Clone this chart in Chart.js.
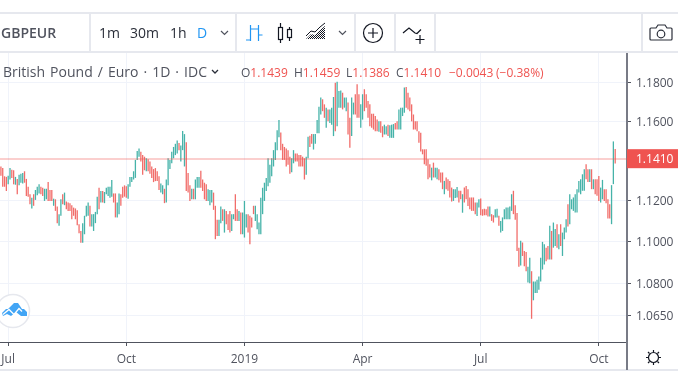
<!DOCTYPE html>
<html><head><meta charset="utf-8">
<script src="https://cdn.jsdelivr.net/npm/chart.js@4"></script>
<style>
html,body{margin:0;padding:0;background:#fff;overflow:hidden}
#wrap{position:relative;width:678px;height:381px;overflow:hidden;font-family:"Open Sans",sans-serif}
canvas{position:absolute;left:0;top:0}
.t{position:absolute;white-space:pre;line-height:16px;height:16px}
.tb{font-size:14px;color:#2a2e39;top:25px}
.lg{font-size:12px;top:65px;color:#ef5350}
.g{color:#50535e}
.line{position:absolute;background:#e6e8ee}
svg{position:absolute;overflow:visible}
</style></head><body>
<div id="wrap">
<canvas id="c" width="678" height="381"></canvas>
<div class="line" style="left:0;top:12px;width:678px;height:2px"></div>
<div class="line" style="left:0;top:51px;width:678px;height:2px"></div>
<div class="line" style="left:89px;top:13px;width:2px;height:39px"></div>
<div class="line" style="left:235px;top:13px;width:2px;height:39px"></div>
<div class="line" style="left:354px;top:13px;width:2px;height:39px"></div>
<div class="line" style="left:394px;top:13px;width:2px;height:39px"></div>
<div class="line" style="left:434px;top:13px;width:2px;height:39px"></div>
<div class="line" style="left:641px;top:13px;width:2px;height:39px"></div>
<div class="line" style="left:0;top:369px;width:678px;height:2px"></div>
<div style="position:absolute;left:626px;top:342px;width:2px;height:28px;background:#787b86"></div>

<div class="t tb" style="left:1px;font-weight:600;color:#50535e">GBPEUR</div>
<div class="t tb" style="left:99px">1m</div>
<div class="t tb" style="left:130px">30m</div>
<div class="t tb" style="left:170px">1h</div>
<div class="t tb" style="left:197px;color:#2196f3">D</div>

<div class="t" style="left:3px;top:64px;font-size:14px;color:#50535e;word-spacing:1.4px">British Pound / Euro · 1D · IDC</div>
<div class="t lg" style="left:241px"><span class="g">O</span>1.1439</div>
<div class="t lg" style="left:294px"><span class="g">H</span>1.1459</div>
<div class="t lg" style="left:346px"><span class="g">L</span>1.1386</div>
<div class="t lg" style="left:396px"><span class="g">C</span>1.1410</div>
<div class="t lg" style="left:449px">−0.0043</div>
<div class="t lg" style="left:496px">(−0.38%)</div>

<svg width="678" height="381" style="left:0;top:0" fill="none">
 <defs><pattern id="h" width="2" height="2" patternUnits="userSpaceOnUse"><rect width="1" height="1" fill="#131722"/><rect x="1" y="1" width="1" height="1" fill="#131722"/></pattern></defs>
 <path d="M221 31l3.5 3.5 3.5-3.5" stroke="#50535e" stroke-width="1.2"/>
 <path d="M339 31l3.5 3.5 3.5-3.5" stroke="#50535e" stroke-width="1.2"/>
 <path d="M212 70l3 3 3-3" stroke="#2a2e39" stroke-width="1.3"/>
 <path d="M250.5 25v16M246 40h4.5M250.5 29h4M258.5 25v16M254 29h4.5M258.5 35h4" stroke="#2196f3" stroke-width="1.2"/>
 <path d="M280.5 23v4M280.5 39v4M289.5 27v2M289.5 37v4" stroke="#131722" stroke-width="1.2"/>
 <rect x="278.5" y="27.5" width="4" height="12" stroke="#131722" stroke-width="1.2"/>
 <rect x="287.5" y="29.5" width="4" height="8" stroke="#131722" stroke-width="1.2"/>
 <path d="M306 39l5-5 4 1 5-5 5-4v13z" fill="url(#h)"/>
 <path d="M306 36l5-5 4 1 5-5 5-4" stroke="#131722" stroke-width="1"/>
 <circle cx="373" cy="33" r="9.5" stroke="#131722" stroke-width="1.2"/>
 <path d="M373 28v10M368 33h10" stroke="#131722" stroke-width="1.2"/>
 <path d="M403 33l6-5 6 5 2 .5 4-4" stroke="#131722" stroke-width="1.2"/>
 <path d="M420 35v9M415.5 39.500h9" stroke="#131722" stroke-width="1.2"/>
 <path d="M651 28h5l2-3h7l2 3h4a1 1 0 0 1 1 1v10a1 1 0 0 1-1 1h-20a1 1 0 0 1-1-1v-10a1 1 0 0 1 1-1z" stroke="#2a2e39" stroke-width="1.2"/>
 <circle cx="661" cy="34" r="3.8" stroke="#2a2e39" stroke-width="1.2"/>
 <circle cx="653.5" cy="357.500" r="5" stroke="#131722" stroke-width="1.2"/>
 <path d="M653.500 350v2M653.500 363v2M646 357.500h2M659 357.500h2M648 352l1.500 1.500M659 363l-1.500-1.500M648 363l1.500-1.500M659 352l-1.500 1.500" stroke="#131722" stroke-width="1.2"/>
 <circle cx="13" cy="311" r="16.500" fill="#fff" stroke="#e6e8ee" stroke-width="1.500"/>
 <path d="M2 313l4-4 2 0 6-6 4 0 4 6 2 0 3 3 0 4-6 0-5-4-5 4-4-2-4 2-1-3z" fill="#42a5f5"/>
 <path d="M3 314.500l6-5 5 5 5-6 3 3" stroke="#fff" stroke-width="1.300"/>
</svg>
</div>
<script>
const highs = [
1.1371,1.1363,1.1322,1.1319,1.1325,1.1363,1.1355,1.1352,1.1319,1.1309,1.1330,1.1335,1.1339,1.1347,1.1309,1.1270,1.1233,1.1216,1.1233,1.1254,
1.1270,1.1282,1.1270,1.1265,1.1260,1.1260,1.1293,1.1254,1.1254,1.1211,1.1208,1.1172,1.1135,1.1208,1.1233,1.1241,1.1197,1.1192,1.1189,1.1179,
1.1167,1.1163,1.1154,1.1086,1.1053,1.1091,1.1127,1.1176,1.1192,1.1176,1.1135,1.1135,1.1146,1.1221,1.1265,1.1249,1.1249,1.1244,1.1265,1.1270,
1.1270,1.1303,1.1237,1.1237,1.1192,1.1237,1.1233,1.1270,1.1277,1.1273,1.1282,1.1319,1.1319,1.1347,1.1404,1.1449,1.1461,1.1445,1.1428,1.1420,
1.1412,1.1407,1.1396,1.1371,1.1358,1.1363,1.1347,1.1322,1.1286,1.1277,1.1260,1.1306,1.1412,1.1404,1.1445,1.1469,1.1485,1.1502,1.1489,1.1477,
1.1550,1.1534,1.1493,1.1339,1.1277,1.1260,1.1260,1.1306,1.1319,1.1319,1.1350,1.1306,1.1290,1.1282,1.1257,1.1254,1.1254,1.1241,1.1176,1.1107,
1.1107,1.1172,1.1159,1.1159,1.1151,1.1135,1.1151,1.1135,1.1135,1.1233,1.1159,1.1151,1.1143,1.1143,1.1200,1.1135,1.1135,1.1127,1.1119,1.1176,
1.1176,1.1135,1.1094,1.1216,1.1265,1.1290,1.1314,1.1412,1.1379,1.1412,1.1453,1.1493,1.1554,1.1606,1.1542,1.1485,1.1469,1.1461,1.1453,1.1420,
1.1412,1.1453,1.1436,1.1436,1.1428,1.1428,1.1420,1.1412,1.1420,1.1521,1.1526,1.1534,1.1534,1.1534,1.1606,1.1674,
1.1721,1.1712,1.1686,1.1669,1.1660,1.1660,1.1669,1.1724,1.1798,1.1803,1.1755,1.1758,1.1746,1.1721,1.1721,1.1695,1.1617,1.1721,1.1695,1.1738,
1.1790,1.1738,1.1686,1.1738,1.1764,1.1738,1.1703,1.1686,1.1638,1.1638,1.1626,1.1608,1.1599,1.1599,1.1574,1.1582,1.1574,1.1582,1.1579,1.1582,
1.1585,1.1590,1.1599,1.1660,1.1669,1.1669,1.1773,1.1776,1.1746,1.1721,1.1686,1.1634,1.1599,1.1599,1.1549,1.1541,1.1457,1.1457,1.1457,1.1407,
1.1382,1.1365,1.1390,1.1365,1.1365,1.1357,1.1341,1.1341,1.1299,1.1316,1.1307,1.1299,1.1266,1.1258,1.1258,1.1269,1.1250,1.1250,1.1233,1.1266,
1.1274,1.1258,1.1217,1.1217,1.1217,1.1192,1.1192,1.1208,
1.1212,1.1159,1.1162,1.1159,1.1172,1.1172,1.1135,1.1130,1.1159,1.1162,1.1127,1.1102,1.1119,1.1159,1.1167,1.1167,1.1172,1.1233,1.1250,1.1179,
1.1140,1.0972,1.1005,1.0997,1.0956,1.0951,1.0880,1.0924,1.0859,1.0810,1.0810,1.0818,1.0834,1.0924,1.1000,1.0989,1.0972,1.0980,1.1078,1.1053,
1.1094,1.1062,1.1086,1.1037,1.1086,1.1045,1.1070,1.1110,1.1184,1.1233,1.1208,1.1217,1.1233,1.1258,1.1299,1.1307,1.1332,1.1357,1.1382,1.1357,
1.1357,1.1357,1.1307,1.1307,1.1307,1.1324,1.1266,1.1304,1.1258,1.1258,1.1208,1.1184,1.1278,1.1497,1.1459];
const lows = [
1.1325,1.1270,1.1270,1.1249,1.1282,1.1306,1.1314,1.1282,1.1280,1.1233,1.1277,1.1290,1.1286,1.1290,1.1224,1.1221,1.1184,1.1163,1.1176,1.1205,
1.1228,1.1237,1.1233,1.1224,1.1200,1.1208,1.1200,1.1200,1.1200,1.1176,1.1151,1.1091,1.1078,1.1127,1.1184,1.1179,1.1159,1.1151,1.1151,1.1110,
1.1127,1.1110,1.1081,1.1042,1.0996,1.0996,1.1037,1.1123,1.1127,1.1075,1.1075,1.1053,1.1091,1.1135,1.1159,1.1192,1.1192,1.1189,1.1233,1.1224,
1.1216,1.1221,1.1192,1.1119,1.1119,1.1135,1.1176,1.1216,1.1221,1.1216,1.1211,1.1270,1.1293,1.1306,1.1314,1.1404,1.1420,1.1396,1.1330,1.1352,
1.1347,1.1347,1.1335,1.1314,1.1293,1.1298,1.1298,1.1254,1.1241,1.1233,1.1189,1.1192,1.1277,1.1358,1.1387,1.1412,1.1428,1.1436,1.1453,1.1396,
1.1453,1.1371,1.1249,1.1241,1.1200,1.1208,1.1208,1.1208,1.1265,1.1265,1.1265,1.1249,1.1208,1.1200,1.1200,1.1179,1.1192,1.1156,1.1013,1.1029,
1.1029,1.1091,1.1102,1.1045,1.1086,1.1058,1.1045,1.1053,1.1110,1.1102,1.1102,1.1102,1.1037,1.1037,1.1021,1.1070,1.1045,1.0988,1.1070,1.1135,
1.1102,1.1061,1.1037,1.1037,1.1135,1.1200,1.1249,1.1273,1.1290,1.1322,1.1371,1.1404,1.1453,1.1518,1.1453,1.1404,1.1404,1.1371,1.1379,1.1335,
1.1342,1.1387,1.1396,1.1396,1.1371,1.1371,1.1371,1.1306,1.1330,1.1412,1.1469,1.1485,1.1456,1.1485,1.1539,1.1539,
1.1634,1.1651,1.1617,1.1566,1.1599,1.1590,1.1582,1.1524,1.1549,1.1574,1.1669,1.1669,1.1660,1.1669,1.1651,1.1532,1.1465,1.1524,1.1634,1.1634,
1.1617,1.1617,1.1566,1.1608,1.1651,1.1669,1.1617,1.1574,1.1566,1.1557,1.1549,1.1549,1.1546,1.1541,1.1518,1.1532,1.1532,1.1524,1.1515,1.1515,
1.1515,1.1557,1.1557,1.1557,1.1557,1.1626,1.1643,1.1669,1.1660,1.1651,1.1599,1.1557,1.1557,1.1549,1.1490,1.1446,1.1432,1.1382,1.1374,1.1307,
1.1316,1.1302,1.1316,1.1316,1.1307,1.1302,1.1291,1.1258,1.1233,1.1258,1.1250,1.1217,1.1197,1.1200,1.1214,1.1217,1.1192,1.1208,1.1142,1.1192,
1.1208,1.1175,1.1159,1.1151,1.1151,1.1134,1.1126,1.1167,
1.1130,1.1127,1.1130,1.1130,1.1124,1.1124,1.1102,1.1094,1.1119,1.1119,1.1078,1.1045,1.1053,1.1110,1.1110,1.1110,1.1110,1.1151,1.1135,1.1107,
1.0956,1.0880,1.0886,1.0932,1.0883,1.0859,1.0805,1.0802,1.0634,1.0721,1.0755,1.0755,1.0771,1.0810,1.0867,1.0891,1.0907,1.0915,1.0915,1.0915,
1.0972,1.0980,1.0972,1.0964,1.0980,1.0932,1.1013,1.1045,1.1075,1.1086,1.1159,1.1151,1.1143,1.1143,1.1241,1.1233,1.1250,1.1250,1.1307,1.1294,
1.1294,1.1258,1.1258,1.1233,1.1225,1.1200,1.1192,1.1208,1.1200,1.1189,1.1114,1.1114,1.1086,1.1283,1.1386];
const directions = (
"dddduuddudu uudddd".replace(/ /g,"")+"udu uudduuddd".replace(/ /g,"")+"uddu udu".replace(/ /g,"")+"ddddddddd"+"uuuu"+"d"+"uuuu"+"d"+"u"+"d"+"uuuuu"+"dd"+"uu"+"dddd"+"uuuuuuu"+"ddd"+"u"+"ddddddd"+
"uu"+"d"+"uuuuuuu"+"d"+"uuu"+"ddd"+"u"+"d"+"uuu"+"dddd"+"uuu"+"ddd"+"uu"+"d"+"u"+"ddd"+"uu"+"dd"+"u"+"d"+"uuu"+"dddd"+"uuuuuuuuuuuuuu"+"dddddd"+"uu"+"dddddd"+"uu"+"dd"+"uuuu"+
"u"+"dd"+"u"+"d"+"uuu"+"d"+"uuu"+"d"+"uu"+"dd"+"uu"+"ddd"+"uu"+"dddddddd"+"u"+"dd"+"uu"+"d"+"uuu"+"dd"+"uuuu"+"dddddddddddddd"+"u"+"d"+"uu"+"ddd"+"u"+"dddd"+"uuu"+"dd"+"u"+"ddddddd"+"uu"+
"ddddd"+"u"+"dd"+"uu"+"d"+"uuuuuuu"+"dddd"+"u"+"ddd"+"uu"+"d"+"uuuuuuu"+"dd"+"u"+"d"+"uu"+"d"+"u"+"d"+"uuu"+"d"+"uuuuuuuuu"+"dd"+"u"+"d"+"u"+"ddd"+"uu"+"dddd"+"uu"+"d"
).split("");
const tickIndexes = [4, 69, 134, 199, 264, 329];
const tickNames = ["Jul", "Oct", "2019", "Apr", "Jul", "Oct"];
const priceTicks = [1.18, 1.16, 1.12, 1.10, 1.08, 1.065];
const lastClose = 1.1410;
const slots = 345;
const labels = Array.from({length: slots}, (_, i) => {
  const k = tickIndexes.indexOf(i);
  return k >= 0 ? tickNames[k] : "";
});
const UP = "rgba(38,166,154,.85)", DOWN = "rgba(239,83,80,.85)";

const lastPrice = {
  id: "lastPrice",
  afterDatasetsDraw(chart) {
    const ctx = chart.ctx, y = chart.scales.y.getPixelForValue(lastClose), a = chart.chartArea;
    ctx.save();
    ctx.fillStyle = "rgba(239,83,80,.28)";
    ctx.fillRect(a.left, Math.round(y) - 1, a.right - a.left, 2);
    ctx.fillStyle = "#ef5350";
    ctx.fillRect(a.right, y - 9.5, chart.width - a.right, 19);
    ctx.fillStyle = "#fff";
    ctx.font = '12px "Open Sans"';
    ctx.textBaseline = "middle";
    ctx.fillText(lastClose.toFixed(4), a.right + 9, y + 1);
    ctx.restore();
  }
};

new Chart(document.getElementById("c"), {
  type: "bar",
  data: {
    labels,
    datasets: [{
      data: highs.map((h, i) => [lows[i], h]),
      backgroundColor: directions.map(d => d === "u" ? UP : DOWN),
      borderWidth: 0,
      barThickness: 1.3,
      inflateAmount: 0,
      grouped: false
    }]
  },
  options: {
    responsive: false,
    animation: false,
    layout: { padding: { top: 53, left: 0, right: 0, bottom: 0 } },
    plugins: { legend: { display: false }, tooltip: { enabled: false } },
    scales: {
      x: {
        type: "category",
        offset: true,
        afterBuildTicks: s => { s.ticks = tickIndexes.map(v => ({ value: v })); },
        afterFit: s => { s.height = 39; s.paddingLeft = 0; s.paddingRight = 0; },
        grid: { color: "#f0f3fa", offset: false, tickLength: 4, tickColor: "#50535e", drawTicks: true },
        border: { color: "#50535e", width: 1 },
        ticks: { autoSkip: false, maxRotation: 0, color: "#50535e", padding: 6, font: { family: "Open Sans", size: 12 },
          callback: v => labels[v] }
      },
      y: {
        type: "logarithmic",
        position: "right",
        min: 1.0526,
        max: 1.1953,
        afterBuildTicks: s => { s.ticks = priceTicks.map(v => ({ value: v })); },
        afterFit: s => { s.width = 51; s.paddingTop = 0; s.paddingBottom = 0; },
        grid: { color: "#f0f3fa", tickLength: 4, tickColor: "#50535e" },
        border: { color: "#787b86", width: 2 },
        ticks: { autoSkip: false, color: "#50535e", padding: 5, labelOffset: 1, crossAlign: "near", font: { family: "Open Sans", size: 12 },
          callback: v => Number(v).toFixed(4) }
      }
    }
  },
  plugins: [lastPrice]
});
</script>
</body></html>
